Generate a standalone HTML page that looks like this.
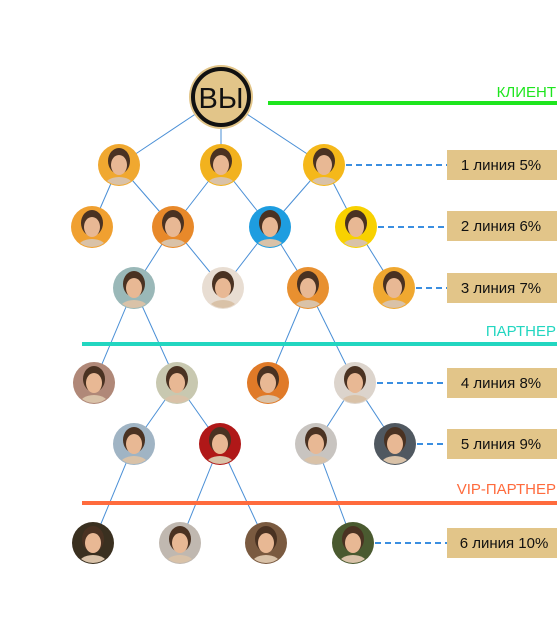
<!DOCTYPE html>
<html><head><meta charset="utf-8"><style>
html,body{margin:0;padding:0;background:#fff;}
svg{display:block;}
text{font-family:"Liberation Sans",sans-serif;}
</style></head><body>
<svg width="557" height="628" viewBox="0 0 557 628" xmlns="http://www.w3.org/2000/svg">
<defs>
<clipPath id="c"><circle cx="0" cy="0" r="20"/></clipPath>
<g id="face" clip-path="url(#c)">
<ellipse cx="0" cy="-4" rx="11" ry="13" fill="#4a3222"/>
<ellipse cx="0" cy="0" rx="8" ry="10" fill="#e8b894"/>
<ellipse cx="0" cy="22" rx="15" ry="10" fill="#d9c2a8"/>
</g>
</defs>
<!-- connectors -->
<g stroke="#4a8fd6" stroke-width="1" fill="none">
<line x1="221" y1="97" x2="119" y2="165"/><line x1="221" y1="97" x2="221" y2="165"/><line x1="221" y1="97" x2="324" y2="165"/>
<line x1="119" y1="165" x2="92" y2="227"/><line x1="119" y1="165" x2="173" y2="227"/>
<line x1="221" y1="165" x2="173" y2="227"/><line x1="221" y1="165" x2="270" y2="227"/>
<line x1="324" y1="165" x2="270" y2="227"/><line x1="324" y1="165" x2="356" y2="227"/>
<line x1="173" y1="227" x2="134" y2="288"/><line x1="173" y1="227" x2="223" y2="288"/>
<line x1="270" y1="227" x2="223" y2="288"/><line x1="270" y1="227" x2="308" y2="288"/>
<line x1="356" y1="227" x2="394" y2="288"/>
<line x1="134" y1="288" x2="94" y2="383"/><line x1="134" y1="288" x2="177" y2="383"/>
<line x1="308" y1="288" x2="268" y2="383"/><line x1="308" y1="288" x2="355" y2="383"/>
<line x1="177" y1="383" x2="134" y2="444"/><line x1="177" y1="383" x2="220" y2="444"/>
<line x1="355" y1="383" x2="316" y2="444"/><line x1="355" y1="383" x2="395" y2="444"/>
<line x1="134" y1="444" x2="93" y2="543"/>
<line x1="220" y1="444" x2="180" y2="543"/><line x1="220" y1="444" x2="266" y2="543"/>
<line x1="316" y1="444" x2="353" y2="543"/>
</g>
<!-- dashed -->
<g stroke="#3b8ee0" stroke-width="2" stroke-dasharray="6,4">
<line x1="346" y1="165" x2="447" y2="165"/>
<line x1="378" y1="227" x2="447" y2="227"/>
<line x1="416" y1="288" x2="447" y2="288"/>
<line x1="377" y1="383" x2="447" y2="383"/>
<line x1="417" y1="444" x2="447" y2="444"/>
<line x1="375" y1="543" x2="447" y2="543"/>
</g>
<!-- level lines -->
<rect x="268" y="101" width="289" height="4" fill="#1ee51e"/>
<text x="556" y="97" text-anchor="end" font-size="15" fill="#1ee51e">КЛИЕНТ</text>
<rect x="82" y="342" width="475" height="4" fill="#22d6c0"/>
<text x="556" y="336" text-anchor="end" font-size="15" fill="#22d6c0">ПАРТНЕР</text>
<rect x="82" y="501" width="475" height="4" fill="#ff6b3d"/>
<text x="556" y="494" text-anchor="end" font-size="15" fill="#ff6b3d">VIP-ПАРТНЕР</text>
<!-- ВЫ -->
<circle cx="221" cy="97" r="32" fill="#e2c589"/>
<circle cx="221" cy="97" r="28" fill="#e2c589" stroke="#111" stroke-width="4"/>
<text x="221" y="108" text-anchor="middle" font-size="29" fill="#111">ВЫ</text>
<!-- labels -->
<g fill="#e2c589">
<rect x="447" y="150" width="110" height="30"/><rect x="447" y="211" width="110" height="30"/>
<rect x="447" y="273" width="110" height="30"/><rect x="447" y="368" width="110" height="30"/>
<rect x="447" y="429" width="110" height="30"/><rect x="447" y="528" width="110" height="30"/>
</g>
<g font-size="15" fill="#111" text-anchor="middle">
<text x="501" y="170">1 линия 5%</text><text x="501" y="231">2 линия 6%</text>
<text x="501" y="293">3 линия 7%</text><text x="501" y="388">4 линия 8%</text>
<text x="501" y="449">5 линия 9%</text><text x="504" y="548">6 линия 10%</text>
</g>
<!-- avatars -->
<g>
<g transform="translate(119,165)"><circle r="21" fill="#f0a830"/><use href="#face"/></g>
<g transform="translate(221,165)"><circle r="21" fill="#f2b21e"/><use href="#face"/></g>
<g transform="translate(324,165)"><circle r="21" fill="#f5b81a"/><use href="#face"/></g>
<g transform="translate(92,227)"><circle r="21" fill="#f0a030"/><use href="#face"/></g>
<g transform="translate(173,227)"><circle r="21" fill="#e8892a"/><use href="#face"/></g>
<g transform="translate(270,227)"><circle r="21" fill="#1e9de0"/><use href="#face"/></g>
<g transform="translate(356,227)"><circle r="21" fill="#f8d100"/><use href="#face"/></g>
<g transform="translate(134,288)"><circle r="21" fill="#9ab8b8"/><use href="#face"/></g>
<g transform="translate(223,288)"><circle r="21" fill="#e8ddd2"/><use href="#face"/></g>
<g transform="translate(308,288)"><circle r="21" fill="#e89030"/><use href="#face"/></g>
<g transform="translate(394,288)"><circle r="21" fill="#f0a830"/><use href="#face"/></g>
<g transform="translate(94,383)"><circle r="21" fill="#b08878"/><use href="#face"/></g>
<g transform="translate(177,383)"><circle r="21" fill="#c8c8b0"/><use href="#face"/></g>
<g transform="translate(268,383)"><circle r="21" fill="#e07a28"/><use href="#face"/></g>
<g transform="translate(355,383)"><circle r="21" fill="#dcd4cc"/><use href="#face"/></g>
<g transform="translate(134,444)"><circle r="21" fill="#a0b4c4"/><use href="#face"/></g>
<g transform="translate(220,444)"><circle r="21" fill="#b01818"/><use href="#face"/></g>
<g transform="translate(316,444)"><circle r="21" fill="#c8c4c0"/><use href="#face"/></g>
<g transform="translate(395,444)"><circle r="21" fill="#505860"/><use href="#face"/></g>
<g transform="translate(93,543)"><circle r="21" fill="#3a3020"/><use href="#face"/></g>
<g transform="translate(180,543)"><circle r="21" fill="#c0b8b0"/><use href="#face"/></g>
<g transform="translate(266,543)"><circle r="21" fill="#7a5a40"/><use href="#face"/></g>
<g transform="translate(353,543)"><circle r="21" fill="#4a5a30"/><use href="#face"/></g>
</g>
</svg>
</body></html>
